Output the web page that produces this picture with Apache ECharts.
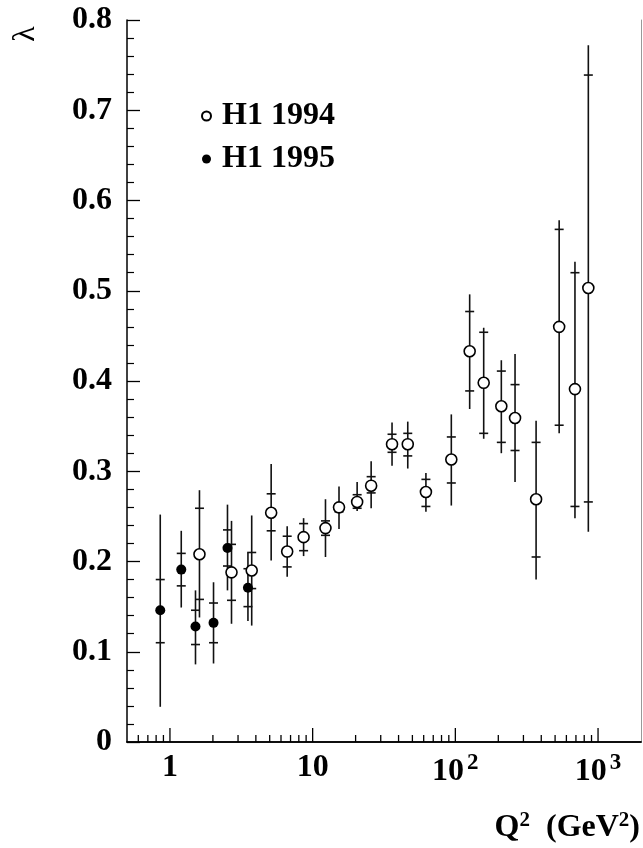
<!DOCTYPE html>
<html>
<head>
	<meta charset="utf-8">
	<title>lambda vs Q2</title>
	<style>
		body { margin: 0; background: #fff; }
	</style>
</head>
<body>
	<div id="box" style="width: 643px;height: 848px"></div>
	<script type="text/javascript" src="https://cdn.jsdelivr.net/npm/echarts@6/dist/echarts.min.js"></script>
	<script type="text/javascript">
	// H1 1994 (open circles): Q2, lambda, total error range, stat error range
	var q2_94 = [1.61, 2.70, 3.74, 5.12, 6.63, 8.64, 12.3, 15.3, 20.5, 25.7, 36.0, 46.4, 62.2, 93.7, 126, 158, 210, 262, 368, 534, 689, 855];
	var lam_94 = [0.208, 0.188, 0.190, 0.254, 0.211, 0.227, 0.237, 0.260, 0.266, 0.284, 0.330, 0.330, 0.277, 0.313, 0.433, 0.398, 0.372, 0.359, 0.269, 0.460, 0.391, 0.503];
	var totLo_94 = [0.138, 0.131, 0.129, 0.201, 0.183, 0.206, 0.205, 0.236, 0.256, 0.259, 0.306, 0.303, 0.255, 0.262, 0.369, 0.336, 0.320, 0.288, 0.180, 0.342, 0.248, 0.233];
	var totHi_94 = [0.279, 0.245, 0.251, 0.308, 0.239, 0.248, 0.269, 0.283, 0.288, 0.311, 0.354, 0.355, 0.298, 0.363, 0.496, 0.459, 0.423, 0.430, 0.356, 0.578, 0.532, 0.772];
	var statLo_94 = [0.158, 0.157, 0.170, 0.234, 0.194, 0.212, 0.229, 0.255, 0.259, 0.276, 0.321, 0.317, 0.261, 0.287, 0.389, 0.342, 0.332, 0.323, 0.205, 0.351, 0.261, 0.266];
	var statHi_94 = [0.259, 0.219, 0.210, 0.275, 0.228, 0.242, 0.245, 0.264, 0.274, 0.294, 0.341, 0.342, 0.291, 0.338, 0.477, 0.454, 0.411, 0.396, 0.332, 0.568, 0.520, 0.739];

	// H1 1995 (filled circles)
	var q2_95 = [0.855, 1.20, 1.51, 2.02, 2.53, 3.52];
	var lam_95 = [0.146, 0.191, 0.128, 0.132, 0.215, 0.171];
	var totLo_95 = [0.039, 0.149, 0.086, 0.087, 0.168, 0.134];
	var totHi_95 = [0.252, 0.234, 0.168, 0.177, 0.263, 0.210];
	var statLo_95 = [0.110, 0.173, 0.108, 0.110, 0.195, 0.150];
	var statHi_95 = [0.180, 0.209, 0.146, 0.154, 0.235, 0.192];

	// x axis tick values (log axis)
	var xMajorTicks = [1, 10, 100, 1000];
	var xMinorTicks = [0.6, 0.7, 0.8, 0.9, 2, 3, 4, 5, 6, 7, 8, 9, 20, 30, 40, 50, 60, 70, 80, 90, 200, 300, 400, 500, 600, 700, 800, 900];

	var FONT = "'Liberation Serif', 'Times New Roman', serif";
	var FS = 32;

	function points(xs, ys) {
		return xs.map(function (x, i) { return [x, ys[i]]; });
	}
	function errRows(xs, lo, hi, slo, shi) {
		return xs.map(function (x, i) { return [x, lo[i], hi[i], slo[i], shi[i]]; });
	}

	// vertical bar for the total error, short crossbars at the stat error
	function renderErr(params, api) {
		var x = api.value(0);
		var pLo = api.coord([x, api.value(1)]);
		var pHi = api.coord([x, api.value(2)]);
		var sLo = api.coord([x, api.value(3)]);
		var sHi = api.coord([x, api.value(4)]);
		var st = { stroke: '#111', lineWidth: 1.6 };
		var w = 4.5;
		return {
			type: 'group',
			children: [
				{ type: 'line', shape: { x1: pLo[0], y1: pLo[1], x2: pHi[0], y2: pHi[1] }, style: st },
				{ type: 'line', shape: { x1: sLo[0] - w, y1: sLo[1], x2: sLo[0] + w, y2: sLo[1] }, style: st },
				{ type: 'line', shape: { x1: sHi[0] - w, y1: sHi[1], x2: sHi[0] + w, y2: sHi[1] }, style: st }
			]
		};
	}

	// ticks on the log x axis, pointing up into the plot
	function tickRenderer(len) {
		return function (params, api) {
			var p = api.coord([api.value(0), 0]);
			return {
				type: 'line',
				shape: { x1: p[0], y1: p[1], x2: p[0], y2: p[1] - len },
				style: { stroke: '#000', lineWidth: 1.3 }
			};
		};
	}

	var dom = document.getElementById("box");
	var myChart = echarts.init(dom);

	myChart.setOption({
		animation: false,
		backgroundColor: '#fff',
		grid: { left: 127, right: 2, top: 20, bottom: 106 },
		legend: {
			orient: 'vertical',
			left: 196,
			top: 95,
			itemWidth: 9,
			itemHeight: 9,
			itemGap: 11,
			selectedMode: false,
			data: ['H1 1994', 'H1 1995'],
			textStyle: { fontFamily: FONT, fontWeight: 'bold', fontSize: FS, color: '#000', padding: [0, 0, 0, 6] }
		},
		xAxis: [{
			type: 'log',
			logBase: 10,
			min: 0.5,
			max: 2000,
			splitLine: { show: false },
			axisTick: { show: false },
			axisLine: { lineStyle: { color: '#000', width: 1.5 } },
			axisLabel: {
				margin: 10,
				color: '#000',
				fontFamily: FONT,
				fontWeight: 'bold',
				fontSize: FS,
				showMinLabel: false,
				showMaxLabel: false,
				formatter: function (v) {
					var e = Math.log10(v);
					if (Math.abs(e - Math.round(e)) > 1e-6) return '';
					e = Math.round(e);
					if (e === 0) return '1';
					if (e === 1) return '10';
					return '{b|10}{s|' + e + '}';
				},
				rich: {
					b: { fontFamily: FONT, fontWeight: 'bold', fontSize: FS, color: '#000' },
					s: { fontFamily: FONT, fontWeight: 'bold', fontSize: 23, color: '#000', padding: [0, 0, 17, 3] }
				}
			}
		}, {
			type: 'log',
			position: 'top',
			min: 0.5,
			max: 2000,
			axisTick: { show: false },
			axisLabel: { show: false },
			splitLine: { show: false },
			axisLine: { lineStyle: { color: '#000', width: 1.5 } }
		}],
		yAxis: [{
			type: 'value',
			min: 0,
			max: 0.8,
			interval: 0.1,
			splitLine: { show: false },
			axisLine: { lineStyle: { color: '#000', width: 1.5 } },
			axisTick: { inside: true, length: 13, lineStyle: { color: '#000', width: 1.3 } },
			minorTick: { show: true, splitNumber: 5, length: 7, lineStyle: { color: '#000', width: 1.2 } },
			axisLabel: {
				margin: 15,
				color: '#000',
				fontFamily: FONT,
				fontWeight: 'bold',
				fontSize: FS,
				formatter: function (v) { return v === 0 ? '0' : v.toFixed(1); }
			}
		}, {
			type: 'value',
			position: 'right',
			min: 0,
			max: 0.8,
			axisTick: { show: false },
			axisLabel: { show: false },
			splitLine: { show: false },
			axisLine: { show: true, lineStyle: { color: '#999', width: 1 } }
		}],
		series: [
			{
				type: 'custom',
				renderItem: tickRenderer(7),
				data: xMinorTicks.map(function (v) { return [v]; }),
				encode: { x: 0 },
				silent: true,
				z: 1
			},
			{
				type: 'custom',
				renderItem: tickRenderer(14),
				data: xMajorTicks.map(function (v) { return [v]; }),
				encode: { x: 0 },
				silent: true,
				z: 1
			},
			{
				type: 'custom',
				renderItem: renderErr,
				data: errRows(q2_94, totLo_94, totHi_94, statLo_94, statHi_94),
				encode: { x: 0, y: [1, 2, 3, 4] },
				z: 2
			},
			{
				type: 'custom',
				renderItem: renderErr,
				data: errRows(q2_95, totLo_95, totHi_95, statLo_95, statHi_95),
				encode: { x: 0, y: [1, 2, 3, 4] },
				z: 2
			},
			{
				name: 'H1 1994',
				type: 'scatter',
				symbol: 'circle',
				symbolSize: 11,
				itemStyle: { color: '#fff', borderColor: '#000', borderWidth: 1.6, opacity: 1 },
				data: points(q2_94, lam_94),
				z: 5
			},
			{
				name: 'H1 1995',
				type: 'scatter',
				symbol: 'circle',
				symbolSize: 10,
				itemStyle: { color: '#000', opacity: 1 },
				data: points(q2_95, lam_95),
				z: 5
			}
		],
		graphic: [
			{
				type: 'text',
				x: 26,
				y: 34,
				rotation: Math.PI / 2,
				style: { text: 'λ', font: "32px 'Liberation Serif', serif", fill: '#000', align: 'center', verticalAlign: 'middle' }
			},
			{
				type: 'text',
				right: 3,
				top: 810,
				style: {
					text: '{b|Q}{s|2}{b|  (GeV}{s|2}{b|)}',
					rich: {
						b: { fontFamily: FONT, fontWeight: 'bold', fontSize: FS, fill: '#000', color: '#000' },
						s: { fontFamily: FONT, fontWeight: 'bold', fontSize: 21, fill: '#000', color: '#000', padding: [0, 0, 15, 0] }
					}
				}
			}
		]
	});
	</script>
</body>
</html>
